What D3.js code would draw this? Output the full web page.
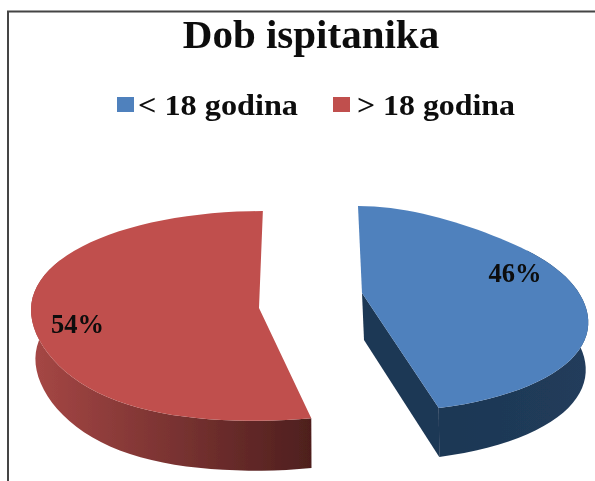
<!DOCTYPE html>
<html>
<head>
<meta charset="utf-8">
<script src="https://cdn.jsdelivr.net/npm/d3@7"></script>
<style>
html, body { margin: 0; padding: 0; background: #fff; }
svg { display: block; }
text { font-family: "Liberation Serif", serif; font-weight: bold; fill: #0a0a0a; }
</style>
</head>
<body>
<div id="chart"></div>
<script>
var width = 595,
    height = 481;

var categories = ["< 18 godina", "> 18 godina"];
var shares = [46, 54];
var labels = ["46%", "54%"];
var title = "Dob ispitanika";

var topColors = ["#4f81bd", "#c0504d"];
var wallStops = [["#1d3754", "#213c5b"], ["#a64745", "#4e1f1e"]];

// each exploded slice has its own view of the tilted disc
var views = [
    { cx: 362, cy: 293, rx: 217, ry: 100.7, k: 0.1575, xp: 1.7, shear: 0.046, bulgeBack: 18, bulgeFront: 0, depth: 47, shift: 2, shrink: 0.98, labelR: 0.73, labelDy: -11, sideWall: true },
    { cx: 259, cy: 308, rx: 228, ry: 104.3, k: 0.0757, xp: 0, shear: -0.04, bulgeBack: 0, bulgeFront: 20, depth: 49, shift: 1, shrink: 0.985, labelR: 0.80, labelDy: 5, sideWall: false }
];

var svg = d3.select("#chart").append("svg")
    .attr("width", width)
    .attr("height", height);

var defs = svg.append("defs");
defs.append("filter").attr("id", "soft")
    .append("feGaussianBlur").attr("stdDeviation", 0.45);

var root = svg.append("g").attr("filter", "url(#soft)");

// frame of the pasted picture
root.append("rect")
    .attr("x", 8).attr("y", 11.5)
    .attr("width", width + 20).attr("height", height + 20)
    .attr("fill", "none")
    .attr("stroke", "#444")
    .attr("stroke-width", 2);

var pie = d3.pie().sort(null);
var arcs = pie(shares);

function project(view, angle, r, level) {
    var u = Math.sin(angle) * r,
        v = Math.cos(angle) * r,
        s = 1 / (1 + view.k * v),
        dx = view.rx * u * Math.pow(s, view.xp),
        dy = -view.ry * v * s;
    // the rim is not a clean ellipse in the picture
    dy += (v < 0 ? view.bulgeFront : view.bulgeBack) * u * u * v * v;
    var x = dx + view.shear * dy,
        y = dy;
    if (level) {
        x = x * view.shrink + view.shift;
        y = y + view.depth * (0.9 + 0.1 * s * s);
    }
    return [view.cx + x, view.cy + y];
}

function arcAngles(a, b) {
    return d3.range(0, 61).map(function (i) {
        return a + (b - a) * i / 60;
    });
}

var line = d3.line();

arcs.forEach(function (d, i) {
    var view = views[i];
    var g = root.append("g");
    var angles = arcAngles(d.startAngle, d.endAngle);

    // outer wall, the back of it ends up hidden under the top face
    var front = angles.filter(function (a) {
        return Math.cos(a) < 0.5;
    });
    var wallPts = front.map(function (a) { return project(view, a, 1, 0); })
        .concat(front.slice().reverse().map(function (a) { return project(view, a, 1, 1); }));

    var grad = defs.append("linearGradient")
        .attr("id", "wall" + i)
        .attr("gradientUnits", "userSpaceOnUse")
        .attr("x1", d3.min(wallPts, function (p) { return p[0]; })).attr("y1", 0)
        .attr("x2", d3.max(wallPts, function (p) { return p[0]; })).attr("y2", 0);
    grad.append("stop").attr("offset", 0).attr("stop-color", wallStops[i][0]);
    grad.append("stop").attr("offset", 1).attr("stop-color", wallStops[i][1]);

    // cut face of the blue slice, visible from the left
    if (view.sideWall) {
        var cut = [
            project(view, d.startAngle, 0, 0),
            project(view, d.startAngle, 0, 1),
            project(view, d.endAngle, 1, 1),
            project(view, d.endAngle, 1, 0)
        ];
        g.append("path")
            .attr("d", line(cut) + "Z")
            .attr("fill", wallStops[i][0]);
    }

    g.append("path")
        .attr("d", line(wallPts) + "Z")
        .attr("fill", "url(#wall" + i + ")");

    var topPts = [project(view, d.startAngle, 0, 0)]
        .concat(angles.map(function (a) { return project(view, a, 1, 0); }));
    g.append("path")
        .attr("d", line(topPts) + "Z")
        .attr("fill", topColors[i]);

    var mid = (d.startAngle + d.endAngle) / 2;
    var lp = project(view, mid, view.labelR, 0);
    g.append("text")
        .attr("x", lp[0])
        .attr("y", lp[1] + view.labelDy)
        .attr("dy", ".35em")
        .attr("text-anchor", "middle")
        .attr("font-size", "26.5px")
        .text(labels[i]);
});

root.append("text")
    .attr("x", 311)
    .attr("y", 48)
    .attr("text-anchor", "middle")
    .attr("font-size", "41px")
    .text(title);

var legendX = [117, 333],
    legendGap = [21, 24],
    legendW = [160, 158];

var legend = root.selectAll(".legend")
    .data(categories)
    .enter().append("g")
    .attr("class", "legend")
    .attr("transform", function (d, i) {
        return "translate(" + legendX[i] + ",97)";
    });

legend.append("rect")
    .attr("width", 17)
    .attr("height", 15)
    .attr("fill", function (d, i) { return topColors[i]; });

legend.append("text")
    .attr("x", function (d, i) { return legendGap[i]; })
    .attr("y", 18)
    .attr("font-size", "29px")
    .attr("textLength", function (d, i) { return legendW[i]; })
    .attr("lengthAdjust", "spacingAndGlyphs")
    .text(function (d) { return d; });
</script>
</body>
</html>
